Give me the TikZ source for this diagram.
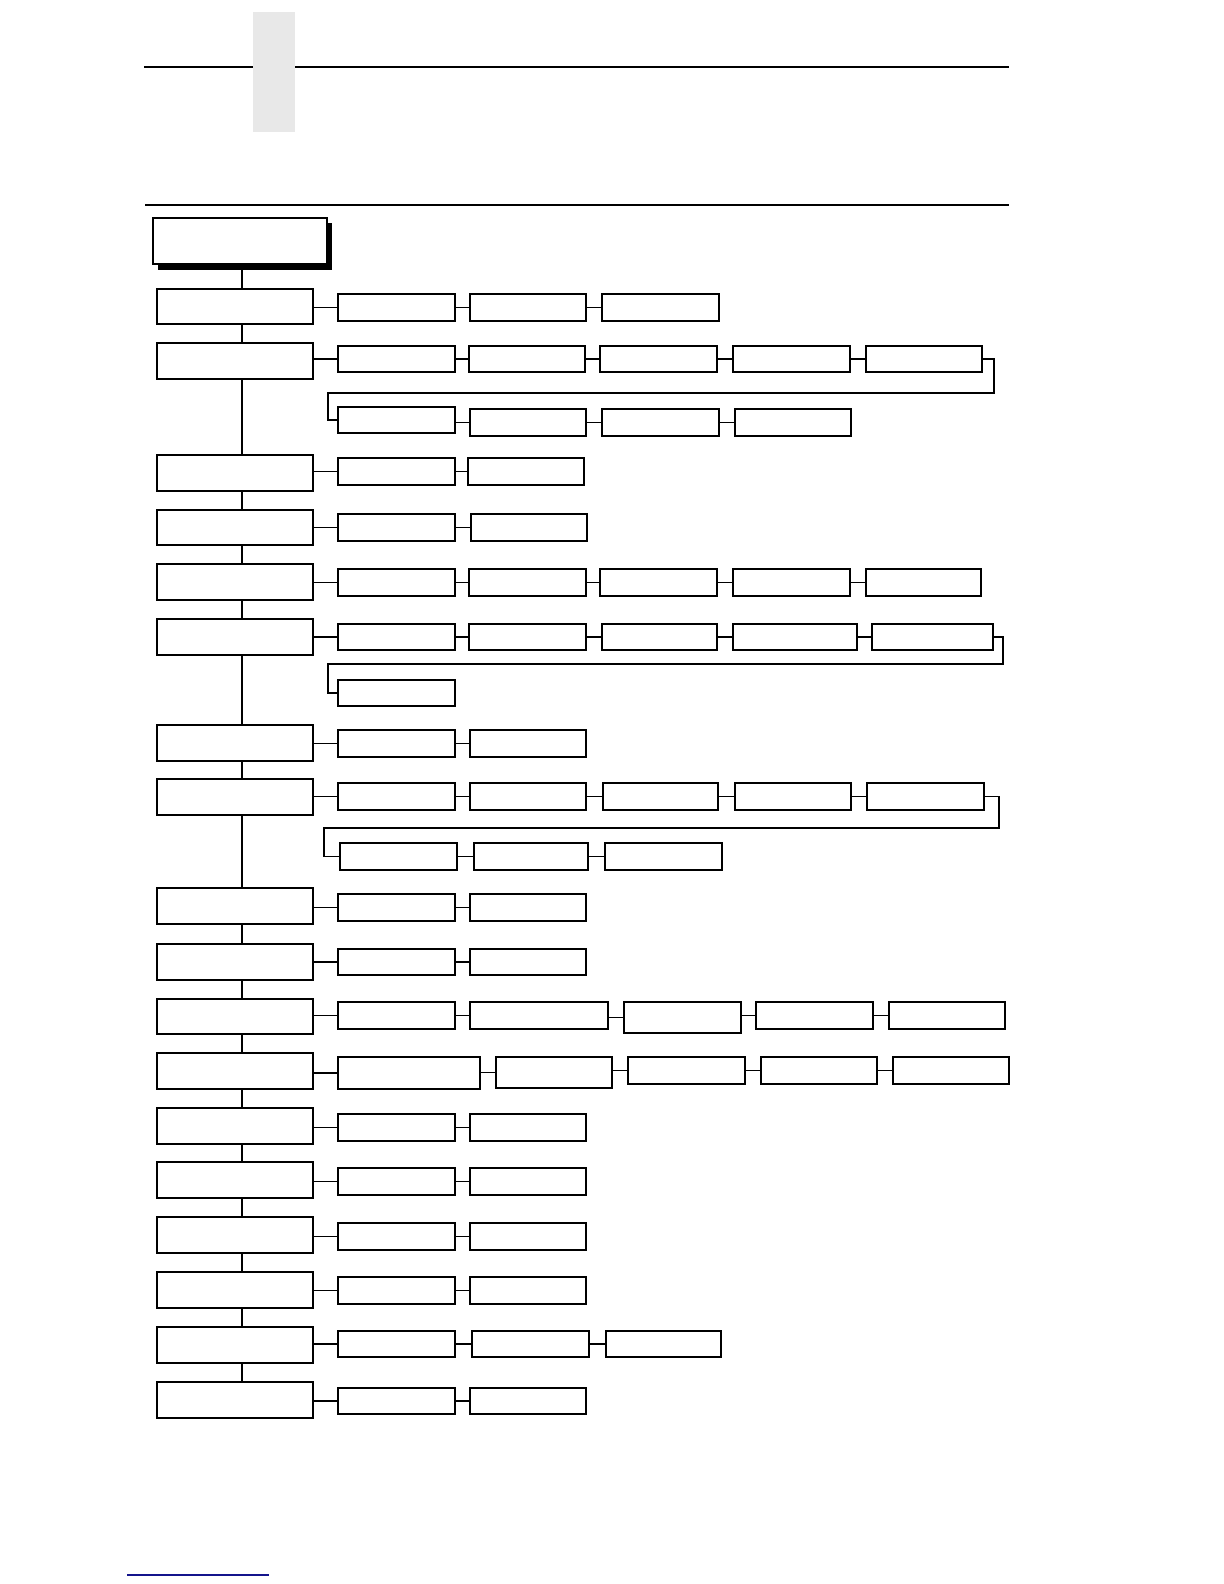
\documentclass[tikz,border=0pt]{standalone}
\tikzset{
  bx/.style={draw, fill=white, line width=0.7pt, inner sep=0pt, outer sep=0pt},
  cn/.style={line width=0.7pt}
}
\newcommand\bx[5]{\node[bx, minimum width={(#4-#2)*0.5pt}, minimum height={(#5-#3)*0.5pt}] (#1) at ({(#2+#4)/2},{(#3+#5)/2}) {};}
\newcommand\cn[2]{\draw[cn] (#1.east |- #2.west) -- (#2.west);}
\newcommand\lbox[3]{\bx{#1}{157}{#2}{313}{#3}}
\begin{document}
\begin{tikzpicture}[x=0.5pt,y=-0.5pt]
\useasboundingbox (0,0) rectangle (1224,1584);
% header
\draw[line width=1.1pt] (144,67) -- (1009,67);
\fill[black!9] (253,12) rectangle (295,132);
\draw[line width=0.6pt] (145,205) -- (1009,205);
\draw[line width=0.8pt, color={rgb,255:red,20;green,20;blue,140}] (127,1575) -- (269,1575);
% root
\fill[black] (158,223) rectangle (332,270);
\bx{root}{153}{218}{327}{264}
\coordinate (sp) at (242,0);
% level-1 boxes
\lbox{L1}{289}{324}
\lbox{L2}{343}{379}
\lbox{L3}{455}{491}
\lbox{L4}{510}{545}
\lbox{L5}{564}{600}
\lbox{L6}{619}{655}
\lbox{L7}{725}{761}
\lbox{L8}{779}{815}
\lbox{L9}{888}{924}
\lbox{L10}{944}{980}
\lbox{L11}{999}{1034}
\lbox{L12}{1053}{1089}
\lbox{L13}{1108}{1144}
\lbox{L14}{1162}{1198}
\lbox{L15}{1217}{1253}
\lbox{L16}{1272}{1308}
\lbox{L17}{1327}{1363}
\lbox{L18}{1382}{1418}
% spine
\draw[cn] (sp |- root.south) -- (sp |- L1.north);
\foreach \a/\b in {L1/L2,L2/L3,L3/L4,L4/L5,L5/L6,L6/L7,L7/L8,L8/L9,L9/L10,L10/L11,L11/L12,L12/L13,L13/L14,L14/L15,L15/L16,L16/L17,L17/L18}
  \draw[cn] (sp |- \a.south) -- (sp |- \b.north);
% row 1
\bx{r1a}{338}{294}{455}{321}
\bx{r1b}{470}{294}{586}{321}
\bx{r1c}{602}{294}{719}{321}
\cn{L1}{r1a}\cn{r1a}{r1b}\cn{r1b}{r1c}
% row 2
\bx{r2a}{338}{346}{455}{372}
\bx{r2b}{469}{346}{585}{372}
\bx{r2c}{600}{346}{717}{372}
\bx{r2d}{733}{346}{850}{372}
\bx{r2e}{866}{346}{982}{372}
\bx{r2f}{338}{407}{455}{433}
\bx{r2g}{470}{409}{586}{436}
\bx{r2h}{602}{409}{719}{436}
\bx{r2i}{735}{409}{851}{436}
\cn{L2}{r2a}\cn{r2a}{r2b}\cn{r2b}{r2c}\cn{r2c}{r2d}\cn{r2d}{r2e}
\coordinate (w2a) at (994,393);
\coordinate (w2b) at (328,393);
\draw[cn] (r2e.east) -| (w2a) -- (w2b) |- (r2f.west);
\cn{r2f}{r2g}\cn{r2g}{r2h}\cn{r2h}{r2i}
% row 3
\bx{r3a}{338}{458}{455}{485}
\bx{r3b}{468}{458}{584}{485}
\cn{L3}{r3a}\cn{r3a}{r3b}
% row 4
\bx{r4a}{338}{514}{455}{541}
\bx{r4b}{471}{514}{587}{541}
\cn{L4}{r4a}\cn{r4a}{r4b}
% row 5
\bx{r5a}{338}{569}{455}{596}
\bx{r5b}{469}{569}{586}{596}
\bx{r5c}{600}{569}{717}{596}
\bx{r5d}{733}{569}{850}{596}
\bx{r5e}{866}{569}{981}{596}
\cn{L5}{r5a}\cn{r5a}{r5b}\cn{r5b}{r5c}\cn{r5c}{r5d}\cn{r5d}{r5e}
% row 6
\bx{r6a}{338}{624}{455}{650}
\bx{r6b}{469}{624}{586}{650}
\bx{r6c}{602}{624}{717}{650}
\bx{r6d}{733}{624}{857}{650}
\bx{r6e}{872}{624}{993}{650}
\bx{r6f}{338}{680}{455}{706}
\cn{L6}{r6a}\cn{r6a}{r6b}\cn{r6b}{r6c}\cn{r6c}{r6d}\cn{r6d}{r6e}
\coordinate (w6a) at (1003,664);
\coordinate (w6b) at (328,664);
\draw[cn] (r6e.east) -| (w6a) -- (w6b) |- (r6f.west);
% row 7
\bx{r7a}{338}{730}{455}{757}
\bx{r7b}{470}{730}{586}{757}
\cn{L7}{r7a}\cn{r7a}{r7b}
% row 8
\bx{r8a}{338}{783}{455}{810}
\bx{r8b}{470}{783}{586}{810}
\bx{r8c}{603}{783}{718}{810}
\bx{r8d}{735}{783}{851}{810}
\bx{r8e}{867}{783}{984}{810}
\bx{r8f}{340}{843}{457}{870}
\bx{r8g}{474}{843}{588}{870}
\bx{r8h}{605}{843}{722}{870}
\cn{L8}{r8a}\cn{r8a}{r8b}\cn{r8b}{r8c}\cn{r8c}{r8d}\cn{r8d}{r8e}
\coordinate (w8a) at (999,828);
\coordinate (w8b) at (324,828);
\draw[cn] (r8e.east) -| (w8a) -- (w8b) |- (r8f.west);
\cn{r8f}{r8g}\cn{r8g}{r8h}
% row 9
\bx{r9a}{338}{894}{455}{921}
\bx{r9b}{470}{894}{586}{921}
\cn{L9}{r9a}\cn{r9a}{r9b}
% row 10
\bx{r10a}{338}{949}{455}{975}
\bx{r10b}{470}{949}{586}{975}
\cn{L10}{r10a}\cn{r10a}{r10b}
% row 11
\bx{r11a}{338}{1002}{455}{1029}
\bx{r11b}{470}{1002}{608}{1029}
\bx{r11c}{624}{1002}{741}{1033}
\bx{r11d}{756}{1002}{873}{1029}
\bx{r11e}{889}{1002}{1005}{1029}
\cn{L11}{r11a}\cn{r11a}{r11b}\cn{r11b}{r11c}\cn{r11c}{r11d}\cn{r11d}{r11e}
% row 12
\bx{r12a}{338}{1057}{480}{1089}
\bx{r12b}{496}{1057}{612}{1088}
\bx{r12c}{628}{1057}{745}{1084}
\bx{r12d}{761}{1057}{877}{1084}
\bx{r12e}{893}{1057}{1009}{1084}
\cn{L12}{r12a}\cn{r12a}{r12b}\cn{r12b}{r12c}\cn{r12c}{r12d}\cn{r12d}{r12e}
% row 13
\bx{r13a}{338}{1114}{455}{1141}
\bx{r13b}{470}{1114}{586}{1141}
\cn{L13}{r13a}\cn{r13a}{r13b}
% row 14
\bx{r14a}{338}{1168}{455}{1195}
\bx{r14b}{470}{1168}{586}{1195}
\cn{L14}{r14a}\cn{r14a}{r14b}
% row 15
\bx{r15a}{338}{1223}{455}{1250}
\bx{r15b}{470}{1223}{586}{1250}
\cn{L15}{r15a}\cn{r15a}{r15b}
% row 16
\bx{r16a}{338}{1277}{455}{1304}
\bx{r16b}{470}{1277}{586}{1304}
\cn{L16}{r16a}\cn{r16a}{r16b}
% row 17
\bx{r17a}{338}{1331}{455}{1357}
\bx{r17b}{472}{1331}{589}{1357}
\bx{r17c}{606}{1331}{721}{1357}
\cn{L17}{r17a}\cn{r17a}{r17b}\cn{r17b}{r17c}
% row 18
\bx{r18a}{338}{1388}{455}{1414}
\bx{r18b}{470}{1388}{586}{1414}
\cn{L18}{r18a}\cn{r18a}{r18b}
\end{tikzpicture}
\end{document}
